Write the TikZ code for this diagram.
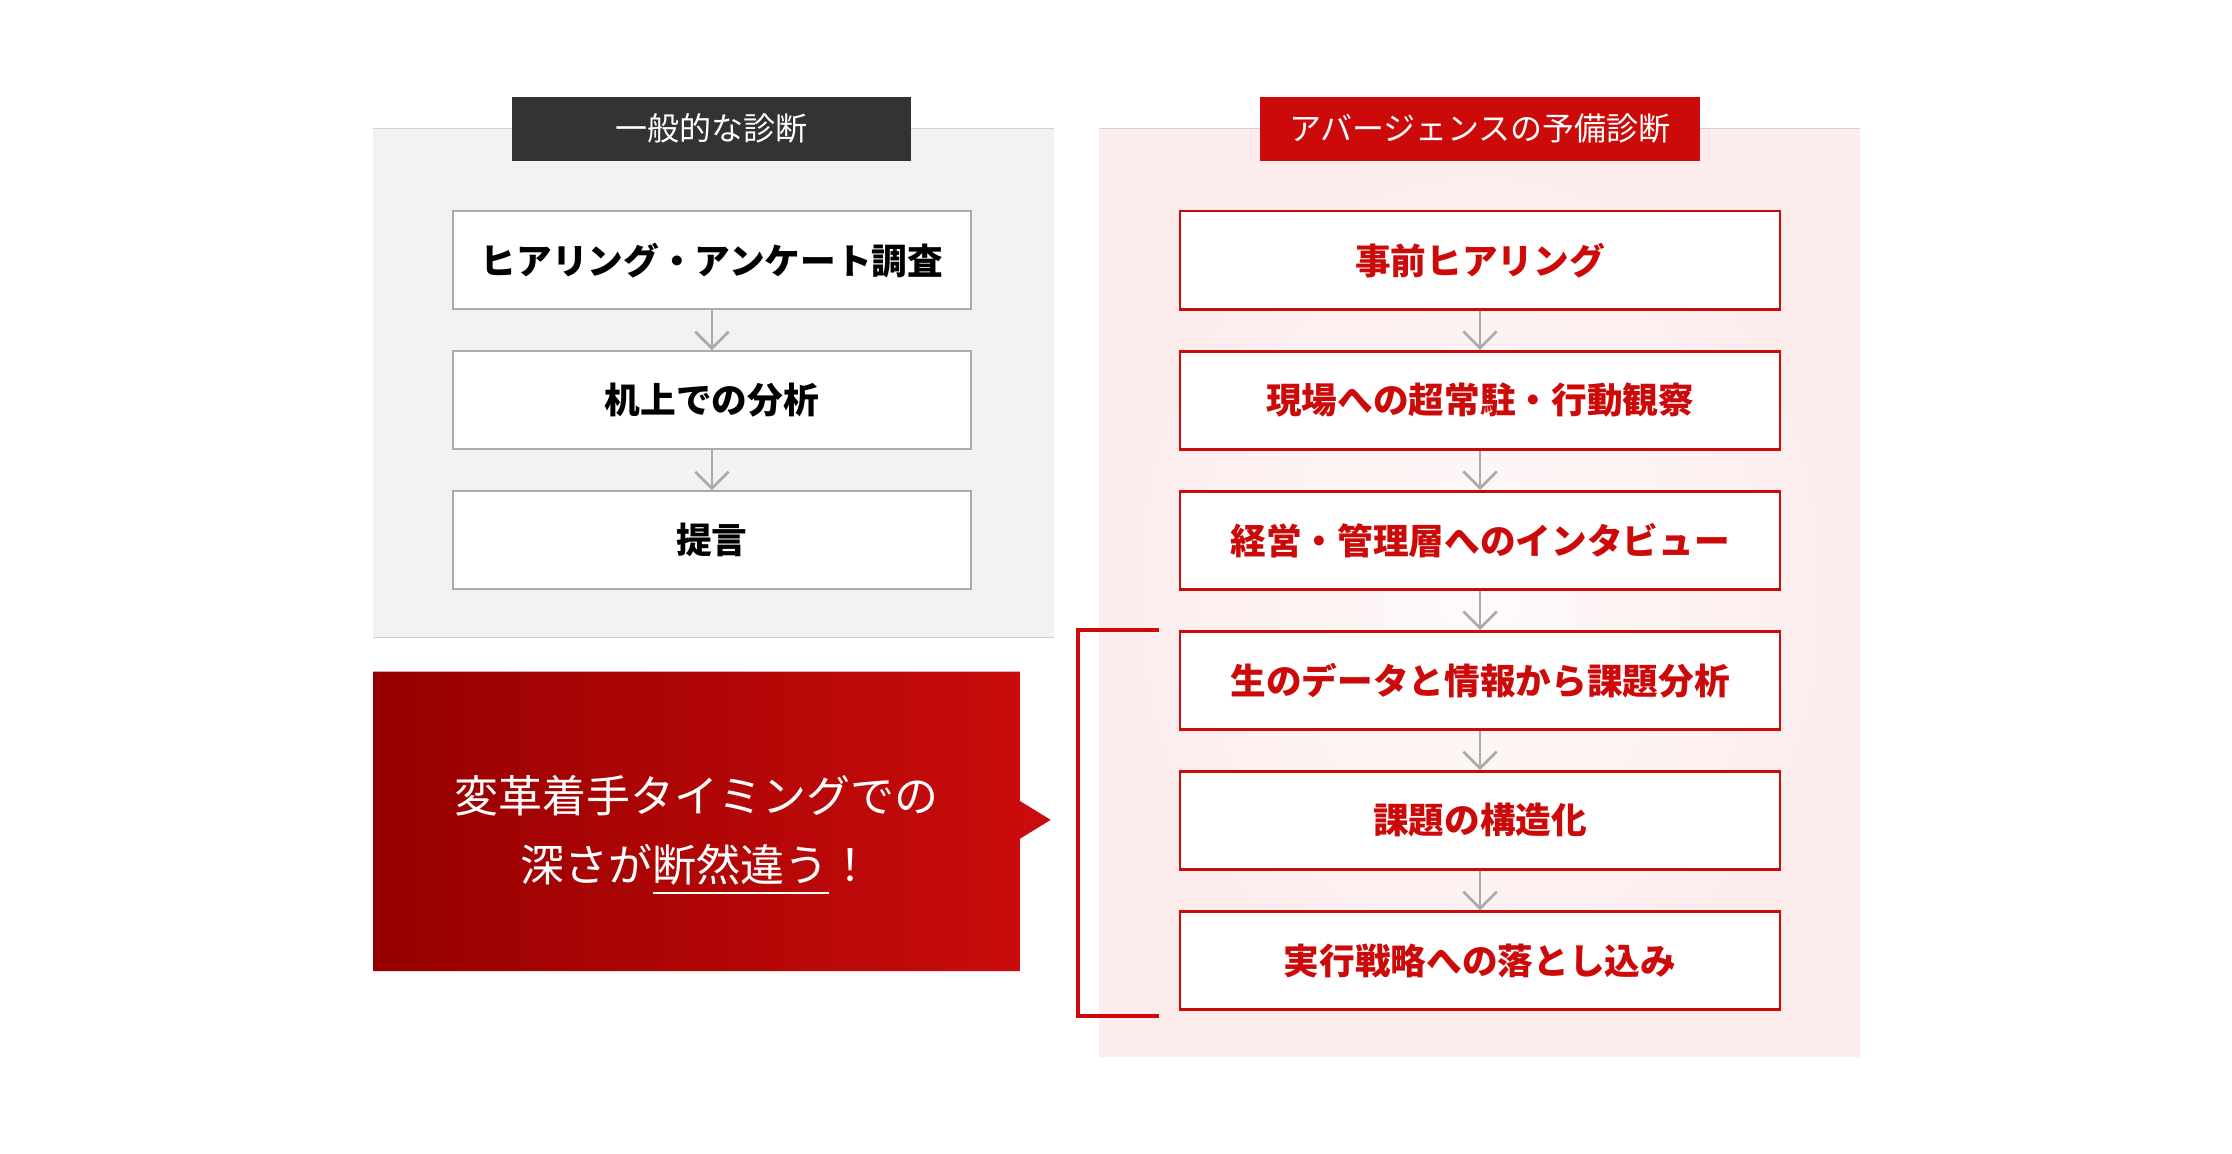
\documentclass[tikz,border=0pt]{standalone}
\usepackage{fontspec}
\setmainfont{Noto Sans CJK JP}
\usetikzlibrary{arrows.meta}

\definecolor{headdark}{HTML}{333333}
\definecolor{accentred}{HTML}{CC0A0A}
\definecolor{boxgray}{HTML}{AAAAAA}
\definecolor{linegray}{HTML}{D2D2D2}
\definecolor{panelgray}{HTML}{F2F2F2}
\definecolor{pinkcore}{HTML}{FFFAFA}
\definecolor{pinkedge}{HTML}{FCECEC}
\definecolor{calloutdark}{HTML}{960000}
\definecolor{calloutlight}{HTML}{CC0C0C}

\newlength\ulwd
\newcommand\markline[1]{\settowidth\ulwd{#1}\rlap{\rule[-3.9pt]{\ulwd}{0.6pt}}#1}

\begin{document}
\begin{tikzpicture}[x=0.2985pt,y=0.2985pt,
  common/.style={minimum height=29.45pt, inner sep=0pt, font=\fontsize{10.7}{12}\selectfont\bfseries},
  plainbox/.style={common, draw=boxgray, line width=0.6pt, fill=white, minimum width=155.5pt},
  redbox/.style={common, draw=accentred, line width=0.8pt, fill=white, text=accentred, minimum width=180pt},
  headbox/.style={minimum height=19.4pt, inner sep=0pt, text=white, font=\fontsize{9.6}{11}\selectfont},
  flow/.style={draw=boxgray, line width=0.8pt, -{Straight Barb[length=5pt,width=10pt]}},
  bracket/.style={draw=accentred, line width=1.2pt}]
\useasboundingbox (0,-5.8) rectangle (2243.2,1153);

% panels
\fill[panelgray] (375,512) rectangle (1059,1024);
\draw[linegray] (375,1024) -- (1059,1024);
\draw[linegray] (375,512) -- (1059,512);
\shade[inner color=pinkcore, outer color=pinkedge] (1105,91) rectangle (1869,1024);
\draw[linegray] (1105,1024) -- (1869,1024);

\node[headbox, fill=headdark, minimum width=119.7pt] (gentitle) at (715.5,1023.5) {一般的な診断};
\node[headbox, fill=accentred, minimum width=132.2pt] (ourtitle) at (1487.5,1023.5) {アバージェンスの予備診断};

% general diagnosis
\node[plainbox] (hearing) at (715.5,891.5) {ヒアリング・アンケート調査};
\node[plainbox] (desk) at (715.5,750.7) {机上での分析};
\node[plainbox] (advice) at (715.5,609.9) {提言};
\draw[flow] (hearing) -- (desk);
\draw[flow] (desk) -- (advice);

% our diagnosis
\node[redbox] (prehear) at (1487.5,891.5) {事前ヒアリング};
\node[redbox] (onsite) at (1487.5,750.7) {現場への超常駐・行動観察};
\node[redbox] (interview) at (1487.5,609.9) {経営・管理層へのインタビュー};
\node[redbox] (analysis) at (1487.5,469.1) {生のデータと情報から課題分析};
\node[redbox] (structure) at (1487.5,328.3) {課題の構造化};
\node[redbox] (strategy) at (1487.5,187.5) {実行戦略への落とし込み};
\draw[flow] (prehear) -- (onsite);
\draw[flow] (onsite) -- (interview);
\draw[flow] (interview) -- (analysis);
\draw[flow] (analysis) -- (structure);
\draw[flow] (structure) -- (strategy);
\draw[bracket] ([xshift=-6pt]analysis.north west) -- ++(-24.2pt,0) |- ([xshift=-6pt,yshift=-1.5pt]strategy.south west);

% callout
\shade[left color=calloutdark, right color=calloutlight] (375,177) -- (1025,177) -- (1025,310) -- (1056,329) -- (1025,348) -- (1025,478) -- (375,478) -- cycle;
\node[text=white, font=\fontsize{13.2}{20.7}\selectfont, align=center] (slogan) at (700,314) {変革着手タイミングでの\\深さが\markline{断然違う}！};
\end{tikzpicture}
\end{document}
